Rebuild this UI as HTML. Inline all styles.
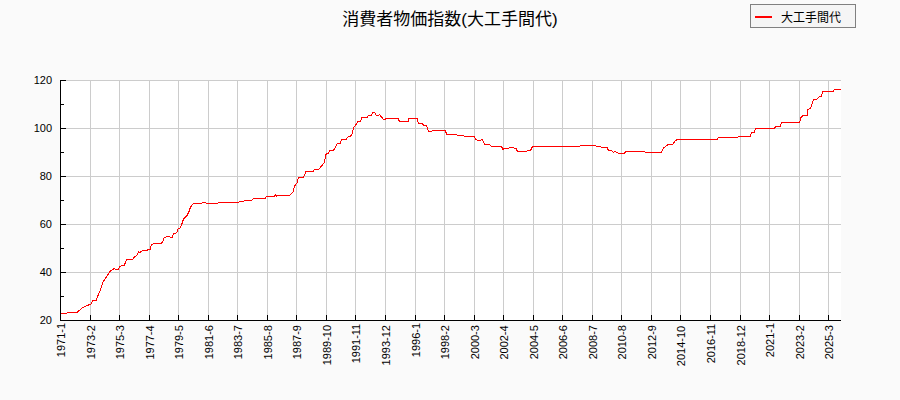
<!DOCTYPE html>
<html lang="ja"><head><meta charset="utf-8"><title>消費者物価指数(大工手間代)</title>
<style>html,body{margin:0;padding:0;background:#fafafa;font-family:"Liberation Sans","Noto Sans CJK JP",sans-serif}svg{display:block}.t{fill:#000000;stroke:none;font-family:"Liberation Sans","Noto Sans CJK JP",sans-serif}</style></head><body>
<svg width="900" height="400" viewBox="0 0 900 400">
<rect x="0" y="0" width="900" height="400" fill="#fafafa"/>
<rect x="60" y="80" width="781" height="241" fill="#ffffff"/>
<path d="M90.5 80V320M119.5 80V320M149.5 80V320M178.5 80V320M208.5 80V320M237.5 80V320M267.5 80V320M296.5 80V320M326.5 80V320M355.5 80V320M385.5 80V320M415.5 80V320M444.5 80V320M474.5 80V320M503.5 80V320M533.5 80V320M562.5 80V320M592.5 80V320M621.5 80V320M651.5 80V320M680.5 80V320M710.5 80V320M740.5 80V320M769.5 80V320M799.5 80V320M828.5 80V320M60 272.5H841M60 224.5H841M60 176.5H841M60 128.5H841M60 80.5H841" stroke="#cccccc" stroke-width="1" fill="none" shape-rendering="crispEdges"/>
<path id="curve" d="M60.5 313.5L66.5 313.5L67.5 312.5L77 312.5L82.5 307.5L91 304L93 300.5L96 300.5L100.5 289.5L103 282L110 271.5L112.5 269.5L114.5 268.5L115.5 269.5L118.5 269.5L119.5 266.5L124.5 265L126.5 259.5L132.5 259.5L134 257.5L137 255L138.5 251.8L140 252.5L142.5 250.5L147 250.5L147.6 249.5L150 249.5L151.5 244.8L153.5 243.5L161 243.5L162.5 242L164 238L166.5 236.5L169.5 236.5L171 237.5L172.5 237.5L173.5 233.5L176.5 233L178 229L180 228L182 223.5L183.5 219L187 215.5L189 211.5L190.5 207L193.5 203.5L201.5 203.5L202.5 202.5L205.5 202.5L206.5 203.5L217.5 203.5L218.5 202.5L238.5 202.5L239.5 201.5L243.5 201.5L244.5 200.5L251.5 200.5L253.5 198.5L265 198.5L266.5 196.5L274 196.5L275.5 194.5L276.5 196.5L278 195.5L289.5 195.5L293 192L294.5 186L297 183L298.5 177.5L303.5 177.5L306 171.5L313 171.5L314.5 169.5L318.5 169.5L324.5 162.5L325.5 155L327 153.5L328.5 153L330 150.5L333 150.5L334.5 148.8L337 143.7L340 143.5L341.5 139.5L346 139.5L348.5 136.5L350.5 136L352.5 133.5L353.5 127.5L355.5 125.5L357.5 121.7L360.5 121.5L362 117.5L367 117.5L368.5 115.5L371.5 115.5L372.5 112.5L374.5 112.5L376.5 115.5L378.5 115.5L379.5 114.5L383.5 119.5L385 119.5L386 118.5L398 118.5L399.5 121.5L408 121.5L409 118.5L417 118.5L418.5 123.5L422.5 123.5L423.5 125.5L426.5 125.5L428.5 131.5L431.5 131.5L432.5 130.5L445.5 130.5L446.5 134.5L456.5 134.5L457.5 135.5L463.5 135.5L464.5 136.5L474 136.5L475.5 139L477.5 140.5L480.5 140.5L481.5 139.5L482.5 139.5L484.5 144.5L489.5 144.5L491.5 146.5L501.5 146.5L503 149.5L504 148.5L508.5 148.5L509.5 147.5L513.5 147.5L514.5 148.5L516 148.5L517.5 151.5L526.5 151.5L527.5 150.5L530.5 150.5L532.5 146.5L579.5 146.5L580.5 145.5L595.5 145.5L596.5 146.5L600.5 146.5L601.5 147.5L607 147.5L608.5 150.5L611.5 150.5L613.5 152.5L614.5 151.5L615.5 151.5L618.5 153.5L624.5 153.5L625.5 151.5L644.5 151.5L645.5 152.5L661 152.5L662.5 150.5L663.5 147.5L665 147L666.5 145.5L668.5 144.5L672.5 144.5L675.5 140.5L677.5 139.5L717 139.5L718.5 137.5L737.5 137.5L739 136.5L750 136.5L751.5 132.5L754.5 132.5L755.5 128.5L774.5 128.5L775.5 126.5L780 126.5L781.5 122.5L799.5 122.5L801 117.5L803 115.5L807 115.5L807.8 109.5L810.5 108.5L813.5 100L816.5 99.5L819.5 96.5L821.5 96.5L822.5 91.5L833 91.5L834.5 89.5L840.5 89.5" stroke="#ff0000" stroke-width="1" fill="none" shape-rendering="crispEdges" stroke-linejoin="miter"/>
<path d="M60.5 80V321M60 320.5H841M60 320.5H66M60 296.5H64M60 272.5H66M60 248.5H64M60 224.5H66M60 200.5H64M60 176.5H66M60 152.5H64M60 128.5H66M60 104.5H64M60 80.5H66M60.5 315V321M90.5 315V321M119.5 315V321M149.5 315V321M178.5 315V321M208.5 315V321M237.5 315V321M267.5 315V321M296.5 315V321M326.5 315V321M355.5 315V321M385.5 315V321M415.5 315V321M444.5 315V321M474.5 315V321M503.5 315V321M533.5 315V321M562.5 315V321M592.5 315V321M621.5 315V321M651.5 315V321M680.5 315V321M710.5 315V321M740.5 315V321M769.5 315V321M799.5 315V321M828.5 315V321" stroke="#000000" stroke-width="1" fill="none" shape-rendering="crispEdges"/>
<text class="t" x="52.0" y="324.2" font-size="11" text-anchor="end">20</text>
<text class="t" x="52.0" y="276.2" font-size="11" text-anchor="end">40</text>
<text class="t" x="52.0" y="228.2" font-size="11" text-anchor="end">60</text>
<text class="t" x="52.0" y="180.2" font-size="11" text-anchor="end">80</text>
<text class="t" x="52.0" y="132.2" font-size="11" text-anchor="end">100</text>
<text class="t" x="52.0" y="84.2" font-size="11" text-anchor="end">120</text>
<text class="t" transform="translate(64.50 357.22) rotate(-90)" font-size="11">1971-1</text>
<text class="t" transform="translate(94.50 359.33) rotate(-90)" font-size="11">1973-2</text>
<text class="t" transform="translate(123.50 359.36) rotate(-90)" font-size="11">1975-3</text>
<text class="t" transform="translate(153.50 359.60) rotate(-90)" font-size="11">1977-4</text>
<text class="t" transform="translate(182.50 359.35) rotate(-90)" font-size="11">1979-5</text>
<text class="t" transform="translate(212.50 359.33) rotate(-90)" font-size="11">1981-6</text>
<text class="t" transform="translate(241.50 359.29) rotate(-90)" font-size="11">1983-7</text>
<text class="t" transform="translate(271.50 359.48) rotate(-90)" font-size="11">1985-8</text>
<text class="t" transform="translate(300.50 359.30) rotate(-90)" font-size="11">1987-9</text>
<text class="t" transform="translate(330.50 365.32) rotate(-90)" font-size="11">1989-10</text>
<text class="t" transform="translate(359.50 363.32) rotate(-90)" font-size="11">1991-11</text>
<text class="t" transform="translate(389.50 365.43) rotate(-90)" font-size="11">1993-12</text>
<text class="t" transform="translate(419.50 357.22) rotate(-90)" font-size="11">1996-1</text>
<text class="t" transform="translate(448.50 359.33) rotate(-90)" font-size="11">1998-2</text>
<text class="t" transform="translate(478.50 359.36) rotate(-90)" font-size="11">2000-3</text>
<text class="t" transform="translate(507.50 359.60) rotate(-90)" font-size="11">2002-4</text>
<text class="t" transform="translate(537.50 359.35) rotate(-90)" font-size="11">2004-5</text>
<text class="t" transform="translate(566.50 359.33) rotate(-90)" font-size="11">2006-6</text>
<text class="t" transform="translate(596.50 359.29) rotate(-90)" font-size="11">2008-7</text>
<text class="t" transform="translate(625.50 359.48) rotate(-90)" font-size="11">2010-8</text>
<text class="t" transform="translate(655.50 359.30) rotate(-90)" font-size="11">2012-9</text>
<text class="t" transform="translate(684.50 366.22) rotate(-90)" font-size="11">2014-10</text>
<text class="t" transform="translate(714.50 363.32) rotate(-90)" font-size="11">2016-11</text>
<text class="t" transform="translate(744.50 365.43) rotate(-90)" font-size="11">2018-12</text>
<text class="t" transform="translate(773.50 357.22) rotate(-90)" font-size="11">2021-1</text>
<text class="t" transform="translate(803.50 359.33) rotate(-90)" font-size="11">2023-2</text>
<text class="t" transform="translate(832.50 359.36) rotate(-90)" font-size="11">2025-3</text>
<text class="t" x="450" y="25.3" font-size="17" text-anchor="middle">消費者物価指数(大工手間代)</text>
<rect x="750.5" y="4.5" width="105" height="23" fill="#f5f5f5" stroke="#808080" stroke-width="1" shape-rendering="crispEdges"/>
<rect x="755" y="16" width="17" height="2" fill="#ff0000" shape-rendering="crispEdges"/>
<text class="t" x="781.0" y="21.5" font-size="12">大工手間代</text>
</svg></body></html>
